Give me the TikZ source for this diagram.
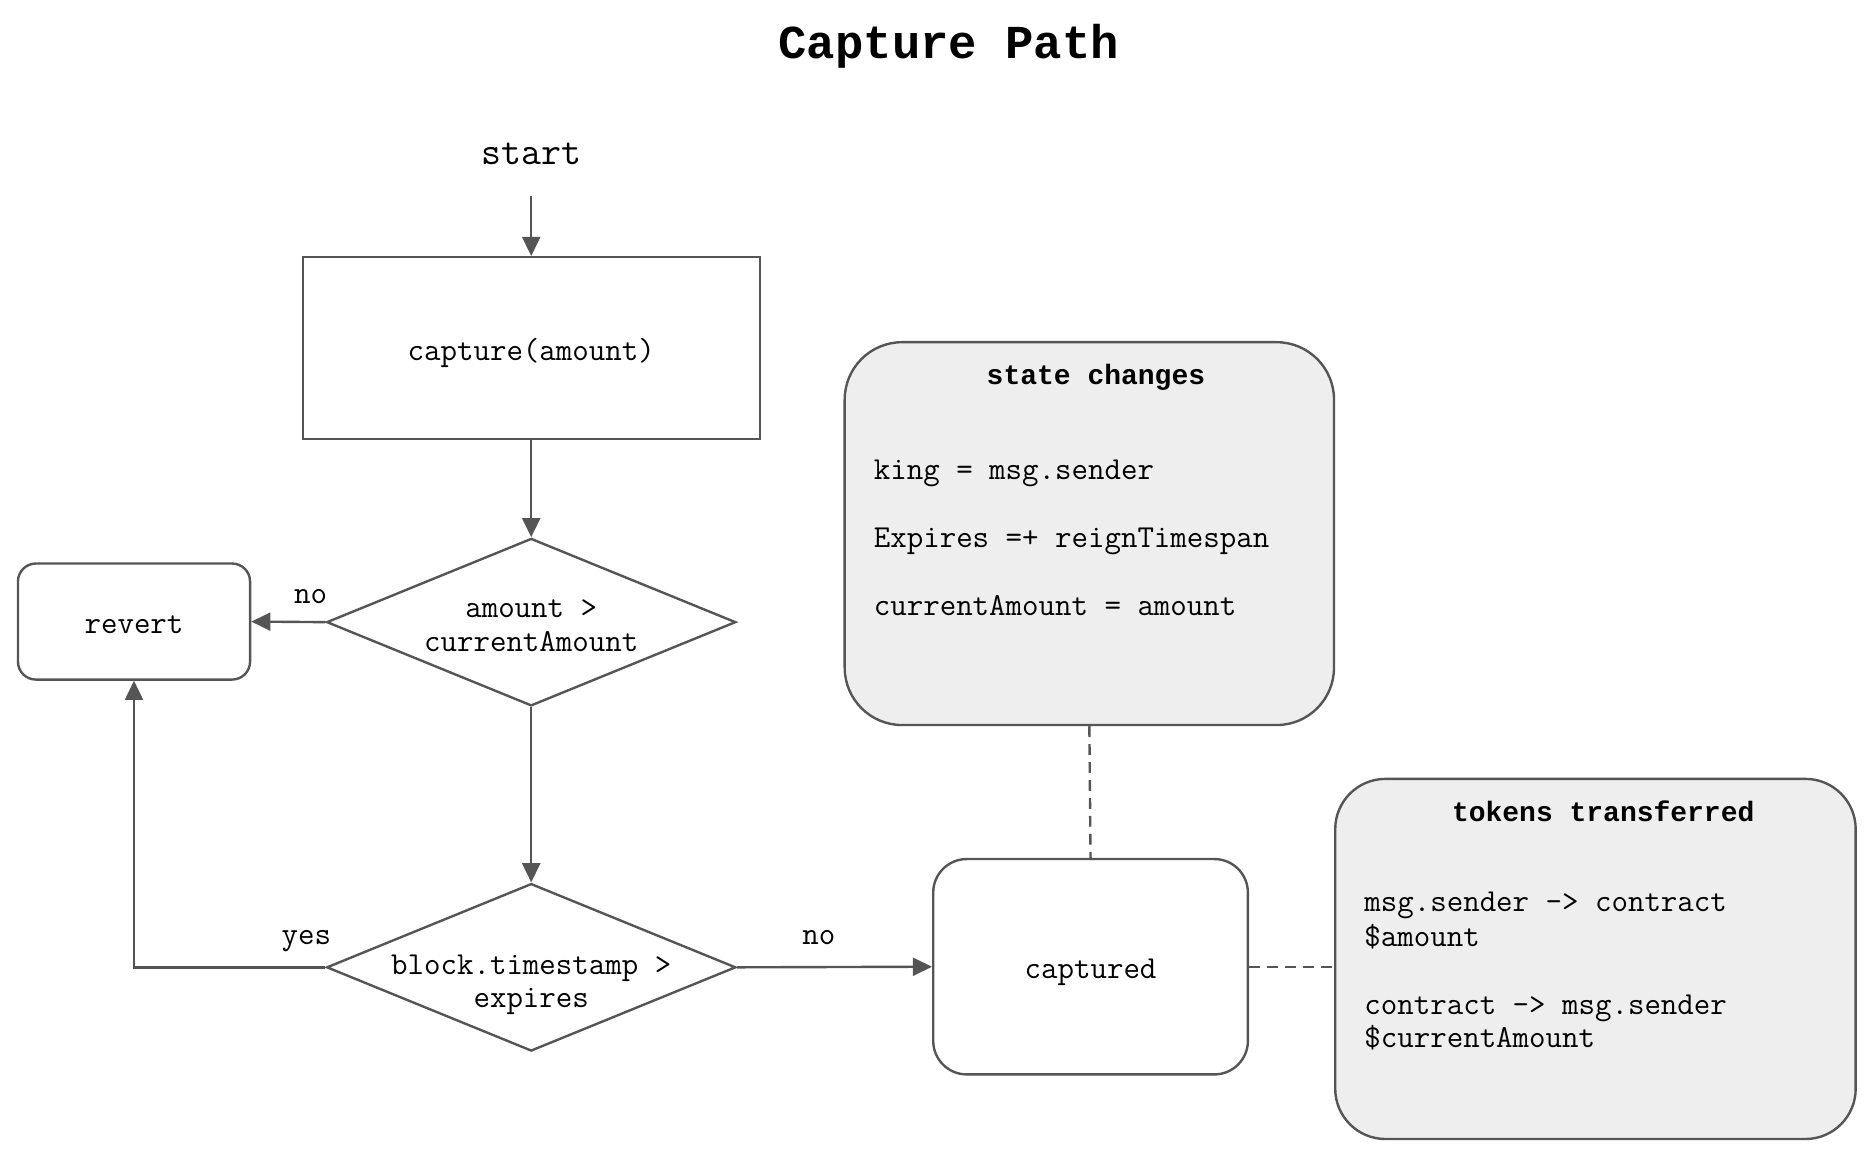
\documentclass[tikz,border=0pt]{standalone}
\usepackage{fontspec}
\newfontfamily\codebold{Liberation Mono}
\usetikzlibrary{shapes.geometric,arrows.meta}
\definecolor{edgegray}{HTML}{555555}
\definecolor{notegray}{HTML}{EEEEEE}

\begin{document}
\begin{tikzpicture}[x=0.5pt,y=-0.5pt,
  txt/.style={font=\ttfamily\fontsize{13.37}{14}\selectfont,text height=10.5pt,text depth=0.3pt,inner sep=0pt},
  flow/.style={draw=edgegray,line width=1pt,-{Triangle[length=8pt,width=7.5pt]}},
  link/.style={draw=edgegray,line width=1pt,dash pattern=on 4.5pt off 3pt},
  process/.style={draw=edgegray,line width=1pt,txt,minimum width=191pt,minimum height=76pt},
  decision/.style={diamond,draw=edgegray,line width=1pt,minimum width=171pt,minimum height=70pt,inner sep=0pt},
  endbox/.style={draw=edgegray,line width=1pt,txt,rounded corners=#1},
  note/.style={draw=edgegray,fill=notegray,line width=1pt,rounded corners=#1},
  head/.style={txt,font=\codebold\bfseries\fontsize{11.7}{14}\selectfont}]
\useasboundingbox (0,0) rectangle (1568,975);

\node[font=\codebold\bfseries\fontsize{19.75}{24}\selectfont] (title) at (793,39) {Capture Path};

% flow chart
\node[font=\ttfamily\fontsize{16.2}{17}\selectfont,text height=10pt,text depth=3.2pt,inner xsep=2pt,inner ysep=9.4pt] (start) at (444,131) {start};
\node[process] (capture) at (444,291) {capture(amount)};
\node[decision] (amt) at (444,520) {};
\node[txt,align=center,text height=,text depth=] (amttxt) at (444,523) {amount >\\currentAmount};
\node[decision] (exp) at (444,808.5) {};
\node[txt,align=center,text height=,text depth=] (exptxt) at (444,823) {block.timestamp >\\expires};
\node[endbox=7.5pt,minimum width=97pt,minimum height=48.5pt] (revert) at (112,519.5) {revert};
\node[endbox=14pt,minimum width=131.5pt,minimum height=90pt] (captured) at (911.5,808) {captured};

% notes
\node[note=24pt,minimum width=204.5pt,minimum height=160pt] (state) at (910.5,446) {};
\node[head] (statehead) at (916,311) {state changes};
\foreach \txt/\yy [count=\i] in {king = msg.sender/390.5, Expires =+ reignTimespan/447.5, currentAmount = amount/504}
  \node[txt,anchor=west] (st\i) at (730,\yy) {\txt};

\node[note=21pt,minimum width=217.5pt,minimum height=150.5pt] (tokens) at (1333.5,801.5) {};
\node[head] (tokenhead) at (1340,676.5) {tokens transferred};
\foreach \txt/\yy [count=\i] in {msg.sender -> contract/751.5, \$amount/780.5, contract -> msg.sender/837.5, \$currentAmount/865.5}
  \node[txt,anchor=west] (tk\i) at (1140,\yy) {\txt};

% connectors
\draw[flow] (start) -- (capture);
\draw[flow] (capture) -- (amt);
\draw[flow] (amt.west) -- node[txt,pos=0.2,above=7pt] (amtno) {no} (revert.east);
\draw[flow] (amt) -- (exp);
\draw[flow] (exp.west) -| node[txt,pos=0.05,above=8.75pt] (expyes) {yes} (revert.south);
\draw[flow] (exp.east) -- node[txt,pos=0.42,above=8.75pt] (expno) {no} (captured.west);
\draw[link] (state.south) -- (captured.north);
\draw[link] (captured.east) -- (captured.east -| tokens.west);
\end{tikzpicture}
\end{document}
